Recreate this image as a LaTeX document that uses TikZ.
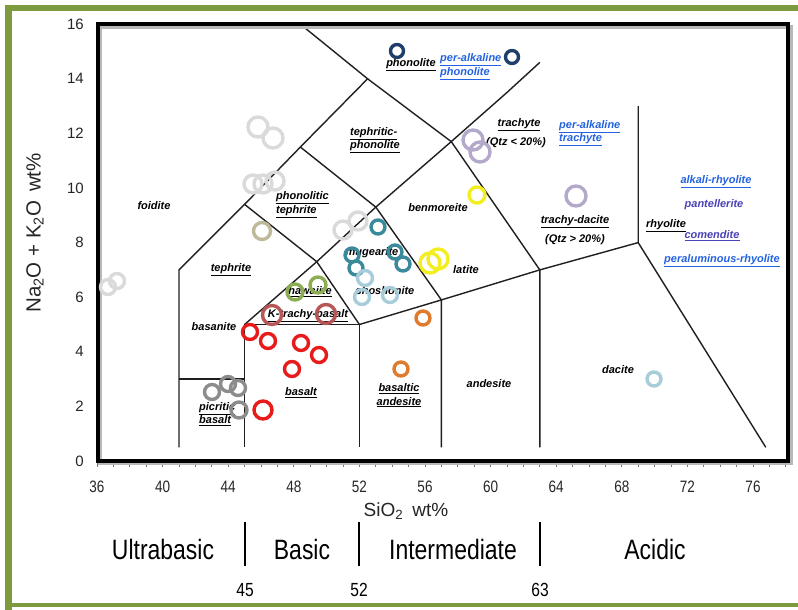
\documentclass[tikz,border=0pt]{standalone}
\usepackage{fontspec}
\setmainfont{Liberation Sans}
\newfontfamily\condensedsans{Liberation Sans}[FakeStretch=0.82]
\definecolor{panelgreen}{HTML}{7E9A3E}
\definecolor{linkblue}{HTML}{2362E0}
\definecolor{violetblue}{HTML}{4B42B6}
\definecolor{cnavy}{HTML}{203E6A}
\definecolor{clilac}{HTML}{B4A9CB}
\definecolor{cwhite}{HTML}{DADADA}
\definecolor{ckhaki}{HTML}{BEB998}
\definecolor{cteal}{HTML}{3B8A9C}
\definecolor{cpale}{HTML}{A7CCDA}
\definecolor{cyellow}{HTML}{F3EE22}
\definecolor{cgreen}{HTML}{8CAD52}
\definecolor{crose}{HTML}{B65656}
\definecolor{cred}{HTML}{E81A1A}
\definecolor{cgray}{HTML}{8C8C8C}
\definecolor{corange}{HTML}{E07A2C}
\begin{document}
\begin{tikzpicture}[x=1pt,y=-1pt,
  rock/.style={font=\fontsize{11}{13.5}\selectfont\bfseries\itshape, inner sep=0pt},
  rockblue/.style={rock, text=linkblue},
  rockviolet/.style={rock, text=violetblue},
  boundary/.style={line width=1.4pt, draw=black!88, line join=round},
  ring/.style={line width=3.4pt, draw=#1},
  minortick/.style={line width=0.8pt, draw=black!55},
  ticklabel/.style={font=\condensedsans\fontsize{16.5}{16.5}\selectfont, text=black!85, inner sep=0pt},
  ytick/.style={font=\fontsize{15}{15}\selectfont, text=black!85, inner sep=0pt, anchor=east},
  classlabel/.style={font=\condensedsans\fontsize{28}{28}\selectfont, inner sep=0pt},
  classnum/.style={font=\condensedsans\fontsize{19}{19}\selectfont, inner sep=0pt},
  classbar/.style={line width=2pt, draw=black}
]
\useasboundingbox (0,0) rectangle (798,610);
\fill[white] (0,0) rectangle (798,610);

% olive panel border
\fill[panelgreen] (5,5) rectangle (798,11);
\fill[panelgreen] (5,5) rectangle (12,610);
\fill[panelgreen] (5,603) rectangle (798,607);

% TAS field boundaries in data coordinates (SiO2, Na2O+K2O)
\begin{scope}[shift={(-493.4pt,-461pt)}, x=16.4pt, y=27.3pt]
  \draw[boundary] (41,0.5) -- (41,7) -- (45,9.4) -- (48.4,11.5) -- (52.5,14) -- (48.4,16);
  \draw[boundary] (41,3) -- (45,3);
  \draw[boundary] (45,0.5) -- (45,5) -- (52,5) -- (52,0.5);
  \draw[boundary] (45,5) -- (49.4,7.3) -- (53,9.3) -- (57.6,11.7) -- (61,13.5) -- (63,14.6);
  \draw[boundary] (45,9.4) -- (49.4,7.3) -- (52,5);
  \draw[boundary] (48.4,11.5) -- (53,9.3) -- (57,5.9) -- (57,0.5);
  \draw[boundary] (52.5,14) -- (57.6,11.7) -- (63,7) -- (63,0.5);
  \draw[boundary] (52,5) -- (57,5.9) -- (63,7) -- (69,8) -- (69,13);
  \draw[boundary] (69,8) -- (76.78,0.5);

  % minor ticks along the SiO2 axis
  \foreach \s in {36,...,78} \draw[minortick] (\s,-0.07) -- (\s,-0.22);
  \foreach \s in {36,40,...,76} \node[ticklabel] (xl-\s) at (\s,-0.95) {\s};
  \foreach \n in {0,2,...,16} \node[ytick] (yl-\n) at ([xshift=-13pt]36,\n) {\n};
\end{scope}

% plot frame with shadow
\draw[line width=4pt, black!28] (100,27) rectangle (790.5,463);
\draw[line width=4pt, black] (97.5,24.5) rectangle (788,460.5);

% axis titles
\node[font=\fontsize{19}{19}\selectfont, text=black!85] (xtitle) at (406,511) {SiO\textsubscript{2}\hspace{4pt} wt\%};
\node[font=\fontsize{20.5}{20.5}\selectfont, text=black!85, rotate=90] (ytitle) at (35,233) {Na\textsubscript{2}O + K\textsubscript{2}O\hspace{3pt} wt\%};

% rock names
\node[rock] (foidite) at (154,206) {foidite};
\node[rock, align=left, anchor=west] (phteph) at (276,204.5) {\underline{phonolitic}\\\underline{tephrite}};
\node[rock, align=left, anchor=west] (tephph) at (350,140) {\underline{tephritic-}\\\underline{phonolite}};
\node[rock] (phonolite) at (411,65) {\underline{phonolite}};
\node[rockblue, align=left, anchor=west] (paphon) at (440,66.5) {\underline{per-alkaline}\\\underline{phonolite}};
\node[rock] (trachyte) at (519,125) {\underline{trachyte}};
\node[rock] (qtzlow) at (516,143) {(Qtz < 20\%)};
\node[rockblue, align=left, anchor=west] (patrach) at (559,133) {\underline{per-alkaline}\\\underline{trachyte}};
\node[rock] (benmoreite) at (438,208) {benmoreite};
\node[rock] (trachydacite) at (575,222) {\underline{trachy-dacite}};
\node[rock] (qtzhigh) at (575,240) {(Qtz > 20\%)};
\node[rockblue] (alkrhy) at (716,182) {\underline{alkali-rhyolite}};
\node[rockviolet] (pantellerite) at (714,205) {pantellerite};
\node[rock] (rhyolite) at (666,226) {\underline{rhyolite}};
\node[rockviolet] (comendite) at (712,236) {\underline{comendite}};
\node[rockblue] (perrhy) at (722,261) {\underline{peraluminous-rhyolite}};
\node[rock] (tephrite) at (231,270) {\underline{tephrite}};
\node[rock] (mugearite) at (372,253) {mugearite};
\node[rock] (latite) at (466,270) {latite};
\node[rock] (shoshonite) at (385,291) {shoshonite};
\node[rock] (hawaiite) at (310,292) {\underline{hawaiite}};
\node[rock] (ktb) at (308,316) {\underline{K-trachy-basalt}};
\node[rock] (basanite) at (214,327) {basanite};
\node[rock] (basalt) at (301,393) {\underline{basalt}};
\node[rock, align=left, anchor=west] (picrite) at (199,414) {\underline{picritic}\\\underline{basalt}};
\node[rock, align=center] (basand) at (399,395.5) {\underline{basaltic}\\\underline{andesite}};
\node[rock] (andesite) at (489,384) {andesite};
\node[rock] (dacite) at (618,370) {dacite};

% sample rings
\foreach \p/\r in {{(397,51)}/6.5,{(512,57)}/6.5} \draw[ring=cnavy] \p circle[radius=\r];
\foreach \p/\r in {{(473,140)}/10,{(480,152)}/10,{(576,196)}/10} \draw[ring=clilac] \p circle[radius=\r];
\foreach \p/\r in {{(258,127)}/10,{(273,138)}/10,{(253,184)}/9,{(263,184)}/9,{(275,181)}/9,{(343,230)}/9,{(358,221)}/9,{(108,287)}/7.5,{(117,281)}/7.5} \draw[ring=cwhite] \p circle[radius=\r];
\draw[ring=ckhaki] (262,231) circle[radius=8.5];
\foreach \p in {(378,227),(352,255),(356,268),(395,252),(403,264)} \draw[ring=cteal] \p circle[radius=7];
\foreach \p/\r in {{(365,278)}/7.5,{(362,297)}/7.5,{(390,295)}/7.5,{(654,379)}/7} \draw[ring=cpale] \p circle[radius=\r];
\foreach \p/\r in {{(477,195)}/8,{(430,263)}/10,{(438,259)}/10} \draw[ring=cyellow] \p circle[radius=\r];
\foreach \p in {(295,292),(318,285)} \draw[ring=cgreen] \p circle[radius=8];
\foreach \p in {(272,315),(326,314)} \draw[ring=crose] \p circle[radius=9.5];
\foreach \p/\r in {{(250,332)}/7.5,{(268,341)}/7.5,{(301,343)}/7.5,{(319,355)}/7.5,{(292,369)}/7.5,{(263,410)}/9} \draw[ring=cred] \p circle[radius=\r];
\foreach \p/\r in {{(212,392)}/7.5,{(228,384)}/7.5,{(238,388)}/7.5,{(239,410)}/8} \draw[ring=cgray] \p circle[radius=\r];
\foreach \p in {(423,318),(401,369)} \draw[ring=corange] \p circle[radius=7];

% silica classes
\node[classlabel] (ultrabasic) at (163,549) {Ultrabasic};
\node[classlabel] (basic) at (302,549) {Basic};
\node[classlabel] (intermediate) at (453,549) {Intermediate};
\node[classlabel] (acidic) at (655,549) {Acidic};
\coordinate (b45t) at (245,522); \coordinate (b45b) at (245,566);
\coordinate (b52t) at (359,522); \coordinate (b52b) at (359,566);
\coordinate (b63t) at (540,522); \coordinate (b63b) at (540,566);
\draw[classbar] (b45t) -- (b45b);
\draw[classbar] (b52t) -- (b52b);
\draw[classbar] (b63t) -- (b63b);
\node[classnum] (n45) at (245,590) {45};
\node[classnum] (n52) at (359,590) {52};
\node[classnum] (n63) at (540,590) {63};
\end{tikzpicture}
\end{document}
